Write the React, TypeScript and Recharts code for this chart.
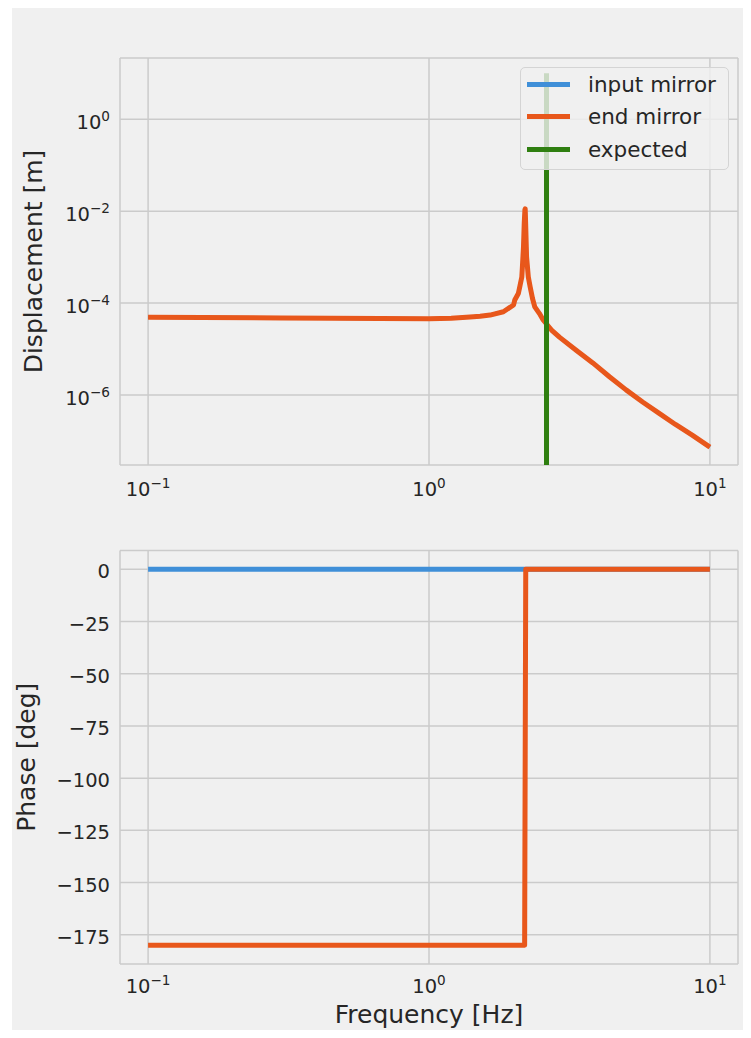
import React from "react";
import { LineChart, Line, XAxis, YAxis, CartesianGrid, Legend, Label } from "recharts";

const FONT = '"DejaVu Sans", "Liberation Sans", sans-serif';
const TEXT = "#262626";
const GRID = "#cbcbcb";
const BLUE = "#3f8fd8";
const ORANGE = "#e8571b";
const GREEN = "#2f7f10";

const seriesNames = ["input mirror", "end mirror", "expected"];

const freqTicks = [0.1, 1, 10];
const dispTicks = [1e-6, 1e-4, 1e-2, 1];
const phaseTicks = [-175, -150, -125, -100, -75, -50, -25, 0];

// displacement (input mirror sits under end mirror)
const dispFreq = [
  0.1, 0.3, 1.0, 1.2, 1.4, 1.52, 1.65, 1.84, 2.0, 2.02, 2.08, 2.11, 2.14, 2.155, 2.17, 2.183,
  2.195, 2.2, 2.208, 2.225, 2.257, 2.29, 2.336, 2.38, 2.47, 2.55, 2.73, 2.92, 3.35, 3.83, 4.39,
  5.03, 5.76, 6.6, 7.54, 8.65, 10,
];
const endMirrorDisp = [
  4.9e-5, 4.75e-5, 4.6e-5, 4.7e-5, 5.0e-5, 5.2e-5, 5.5e-5, 6.5e-5, 9.1e-5, 1.17e-4, 1.62e-4,
  2.45e-4, 3.7e-4, 7.8e-4, 1.7e-3, 5.5e-3, 1.07e-2, 1.12e-2, 5.5e-3, 1.02e-3, 3.7e-4, 2.3e-4,
  1.26e-4, 8.3e-5, 6.0e-5, 4.3e-5, 2.6e-5, 1.8e-5, 9.3e-6, 5.0e-6, 2.5e-6, 1.3e-6, 7.1e-7,
  4.0e-7, 2.3e-7, 1.35e-7, 7.4e-8,
];
const inputMirrorDisp = [
  4.9e-5, 4.75e-5, 4.6e-5, 4.7e-5, 5.0e-5, 5.2e-5, 5.5e-5, 6.5e-5, 9.1e-5, 1.17e-4, 1.62e-4,
  2.45e-4, 3.7e-4, 7.8e-4, 1.7e-3, 5.5e-3, 1.07e-2, 1.12e-2, 5.5e-3, 1.02e-3, 3.7e-4, 2.3e-4,
  1.26e-4, 8.3e-5, 6.0e-5, 4.3e-5, 2.6e-5, 1.8e-5, 9.3e-6, 5.0e-6, 2.5e-6, 1.3e-6, 7.1e-7,
  4.0e-7, 2.3e-7, 1.35e-7, 7.4e-8,
];

// expected resonance marker
const expectedFreq = [2.62, 2.62];
const expectedDisp = [3e-8, 10];

// phase
const inputPhaseFreq = [0.1, 10];
const inputPhase = [0, 0];
const endPhaseFreq = [0.1, 2.19, 2.21, 10];
const endPhase = [-180, -180, 0, 0];

const zip = (fs: number[], vs: number[]) => fs.map((f, i) => ({ f, v: vs[i] }));

const xDomain = [Math.pow(10, -1.1), Math.pow(10, 1.1)];
const dispDomain = [Math.pow(10, -7.52), Math.pow(10, 1.33)];
const phaseDomain = [-189, 9];

const sup = (v: number) => {
  const e = Math.round(Math.log10(v));
  return e < 0 ? "\u2212" + Math.abs(e) : String(e);
};

const PowTick = ({ x, y, payload, anchor, dx, dy }: any) => (
  <text x={x + dx} y={y + dy} textAnchor={anchor} fill={TEXT} fontFamily={FONT} fontSize={19.5}>
    <tspan>10</tspan>
    <tspan dy={-8.5} fontSize={13.6}>
      {sup(payload.value)}
    </tspan>
  </text>
);

const PhaseTick = ({ x, y, payload }: any) => (
  <text x={x - 10} y={y + 9} textAnchor="end" fill={TEXT} fontFamily={FONT} fontSize={19.5}>
    {payload.value < 0 ? "\u2212" + Math.abs(payload.value) : payload.value}
  </text>
);

const yLabel = (text: string, off: number) => (props: any) => {
  const { x, y, height } = props.viewBox;
  const cx = x + off;
  const cy = y + height / 2;
  return (
    <text
      x={cx}
      y={cy}
      transform={`rotate(-90, ${cx}, ${cy})`}
      textAnchor="middle"
      fill={TEXT}
      fontFamily={FONT}
      fontSize={25}
    >
      {text}
    </text>
  );
};

const renderLegend = (props: any) => {
  const items = [...props.payload].sort(
    (a: any, b: any) => seriesNames.indexOf(a.value) - seriesNames.indexOf(b.value)
  );
  return (
    <div
      style={{
        background: "rgba(240,240,240,0.8)",
        border: "1px solid #d4d4d4",
        borderRadius: 5,
        boxSizing: "border-box",
        height: 103,
      }}
    >
      {items.map((entry: any) => (
        <div key={entry.value} style={{ display: "flex", alignItems: "center", height: 32.5 }}>
          <span
            style={{ display: "inline-block", width: 43, height: 5, background: entry.color, marginLeft: 6 }}
          />
          <span style={{ marginLeft: 18, fontSize: 21.5, fontFamily: FONT, color: TEXT, lineHeight: 1 }}>
            {entry.value}
          </span>
        </div>
      ))}
    </div>
  );
};

const lineProps = {
  dot: false,
  activeDot: false,
  isAnimationActive: false,
  strokeWidth: 5,
  strokeLinejoin: "round" as const,
  type: "linear" as const,
};

export default function App() {
  return (
    <div style={{ position: "relative", width: 751, height: 1038, margin: -8, background: "#fff" }}>
      <div style={{ position: "absolute", left: 12, top: 5, right: 0, bottom: 0, background: "#f0f0f0" }} />

      <div style={{ position: "absolute", left: 0, top: 0 }}>
        <LineChart width={751} height={510} margin={{ top: 58, right: 13, bottom: 0, left: 10 }}>
          <CartesianGrid stroke={GRID} strokeWidth={1.5} />
          <XAxis
            dataKey="f"
            type="number"
            scale="log"
            domain={xDomain}
            allowDataOverflow
            ticks={freqTicks}
            interval={0}
            axisLine={false}
            tickLine={false}
            tickSize={0}
            tickMargin={0}
            height={45}
            tick={(p: any) => <PowTick {...p} anchor="middle" dx={0} dy={31} />}
          />
          <YAxis
            type="number"
            scale="log"
            domain={dispDomain}
            allowDataOverflow
            ticks={dispTicks}
            interval={0}
            axisLine={false}
            tickLine={false}
            tickSize={0}
            tickMargin={0}
            width={110}
            tick={(p: any) => <PowTick {...p} anchor="end" dx={-10} dy={10} />}
          >
            <Label content={yLabel("Displacement [m]", 32)} />
          </YAxis>
          {/* input mirror is hidden under end mirror here; keep it a bit thinner so no fringe shows */}
          <Line
            {...lineProps}
            strokeWidth={3.5}
            data={zip(dispFreq, inputMirrorDisp)}
            dataKey="v"
            name={seriesNames[0]}
            stroke={BLUE}
          />
          <Line {...lineProps} data={zip(dispFreq, endMirrorDisp)} dataKey="v" name={seriesNames[1]} stroke={ORANGE} />
          <Line {...lineProps} data={zip(expectedFreq, expectedDisp)} dataKey="v" name={seriesNames[2]} stroke={GREEN} />
          <Legend
            layout="vertical"
            align="center"
            verticalAlign="middle"
            content={renderLegend}
            wrapperStyle={{ left: 520, top: 67, width: 209 }}
          />
        </LineChart>
      </div>

      <div style={{ position: "absolute", left: 0, top: 500 }}>
        <LineChart width={751} height={538} margin={{ top: 50.5, right: 13, bottom: 0, left: 10 }}>
          <CartesianGrid stroke={GRID} strokeWidth={1.5} />
          <XAxis
            dataKey="f"
            type="number"
            scale="log"
            domain={xDomain}
            allowDataOverflow
            ticks={freqTicks}
            interval={0}
            axisLine={false}
            tickLine={false}
            tickSize={0}
            tickMargin={0}
            height={74}
            tick={(p: any) => <PowTick {...p} anchor="middle" dx={0} dy={29} />}
          >
            <Label
              content={(props: any) => {
                const { x, y, width } = props.viewBox;
                return (
                  <text x={x + width / 2} y={y + 59} textAnchor="middle" fill={TEXT} fontFamily={FONT} fontSize={25}>
                    Frequency [Hz]
                  </text>
                );
              }}
            />
          </XAxis>
          <YAxis
            type="number"
            domain={phaseDomain}
            allowDataOverflow
            ticks={phaseTicks}
            interval={0}
            axisLine={false}
            tickLine={false}
            tickSize={0}
            tickMargin={0}
            width={110}
            tick={PhaseTick}
          >
            <Label content={yLabel("Phase [deg]", 25)} />
          </YAxis>
          <Line {...lineProps} data={zip(inputPhaseFreq, inputPhase)} dataKey="v" name={seriesNames[0]} stroke={BLUE} />
          <Line {...lineProps} data={zip(endPhaseFreq, endPhase)} dataKey="v" name={seriesNames[1]} stroke={ORANGE} />
        </LineChart>
      </div>
    </div>
  );
}
